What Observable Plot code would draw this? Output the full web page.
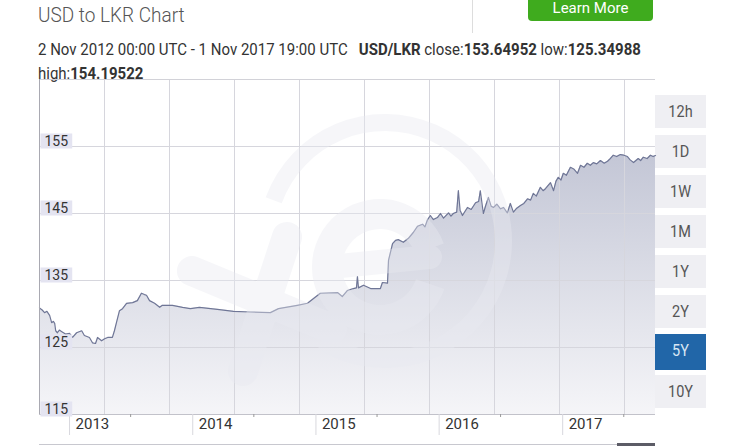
<!DOCTYPE html>
<html>
<head>
<meta charset="utf-8">
<script src="https://cdn.jsdelivr.net/npm/d3@7"></script>
<script src="https://cdn.jsdelivr.net/npm/@observablehq/plot@0.6"></script>
<style>
  html, body { margin: 0; padding: 0; background: #fff; }
  body { width: 732px; height: 446px; position: relative; overflow: hidden; font-family: Roboto, "Open Sans", sans-serif; }
  .title { position: absolute; left: 38px; top: 2px; font-size: 19px; font-weight: 300; color: #555; transform: scaleY(1.1); transform-origin: left top; }
  .sep { position: absolute; left: 472px; top: 0; width: 1px; height: 33px; background: #ddd; }
  .learn { position: absolute; left: 528px; top: -20px; width: 125px; height: 41px; background: #3fab1e; border-radius: 4px; color: #fff; font-size: 15px; text-align: center; line-height: 15px; padding-top: 21px; box-sizing: border-box; }
  .sub { position: absolute; left: 38px; top: 38px; width: 660px; font-size: 15px; line-height: 22px; color: #333; transform: scaleY(1.08); transform-origin: left top; }
  .sub b { font-weight: 700; }
  .btns { position: absolute; left: 655px; top: 95px; width: 51px; }
  .btn { height: 33px; margin-bottom: 7px; background: #efeff3; color: #555; font-size: 14.5px; text-align: center; line-height: 33px; }
  .btn span { display: inline-block; transform: scaleY(1.12); }
  .btn.on { background: #2166a8; color: #d8e6f4; height: 36px; line-height: 36px; margin-top: -1px; margin-bottom: 5px; }
  #chart { position: absolute; left: 0; top: 79px; }
</style>
</head>
<body>
<div class="title">USD to LKR Chart</div>
<div class="sep"></div>
<div class="learn">Learn More</div>
<div class="sub">2 Nov 2012 00:00 UTC - 1 Nov 2017 19:00 UTC &nbsp;&nbsp;<b>USD/LKR</b> close:<b>153.64952</b> low:<b>125.34988</b><br>high:<b>154.19522</b></div>
<div class="btns" id="btns"></div>
<div id="chart"></div>
<script>
// ---- data ----
const dates = [
"2012-10-04","2012-10-12","2012-10-19","2012-10-26","2012-11-03","2012-11-09","2012-11-14","2012-11-18","2012-11-21","2012-11-26",
"2012-12-02","2012-12-08","2012-12-20","2013-01-01","2013-01-10","2013-01-22","2013-02-06","2013-02-14","2013-03-01","2013-03-10",
"2013-03-19","2013-03-25","2013-04-06","2013-04-15","2013-04-24","2013-05-08","2013-05-14","2013-05-20","2013-05-29","2013-06-07",
"2013-06-19","2013-07-07","2013-07-21","2013-08-02","2013-08-11","2013-08-17","2013-08-26","2013-09-10","2013-09-25","2013-10-03",
"2013-11-02","2013-12-02","2013-12-25","2014-01-21","2014-03-15","2014-05-02","2014-06-21","2014-08-19","2014-09-12","2014-11-07",
"2014-12-07","2014-12-25","2015-01-14","2015-03-06","2015-03-20","2015-04-04","2015-04-22","2015-05-01","2015-05-04","2015-05-07",
"2015-05-22","2015-06-12","2015-07-11","2015-07-17","2015-08-01","2015-08-04","2015-08-16","2015-08-25","2015-09-02","2015-09-17",
"2015-10-02","2015-10-17","2015-10-29","2015-11-13","2015-11-20","2015-11-27","2015-12-06","2015-12-15","2015-12-27","2016-01-05",
"2016-01-14","2016-01-29","2016-02-05","2016-02-12","2016-02-22","2016-02-27","2016-03-03","2016-03-10","2016-03-25","2016-04-05",
"2016-04-18","2016-04-27","2016-05-02","2016-05-11","2016-05-18","2016-05-26","2016-06-03","2016-06-10","2016-06-20","2016-07-01",
"2016-07-10","2016-07-21","2016-07-30","2016-08-08","2016-08-18","2016-08-29","2016-09-08","2016-09-19","2016-09-28","2016-10-06",
"2016-10-15","2016-10-27","2016-11-04","2016-11-11","2016-11-26","2016-12-05","2016-12-12","2016-12-19","2016-12-27","2017-01-03",
"2017-01-12","2017-01-24","2017-02-04","2017-02-14","2017-02-23","2017-03-05","2017-03-15","2017-03-24","2017-04-02","2017-04-12",
"2017-04-23","2017-05-04","2017-05-14","2017-05-22","2017-05-31","2017-06-10","2017-06-21","2017-07-01","2017-07-12","2017-07-20",
"2017-07-30","2017-08-06","2017-08-13","2017-08-20","2017-08-28","2017-09-08","2017-09-18","2017-09-26","2017-10-03"
];
const values = [
130.9,130.6,130.2,130.4,129.8,128.7,128.9,128.6,127.5,127.2,
127.6,127.4,127.0,127.1,126.5,127.2,127.5,126.8,126.5,125.7,
125.6,126.5,126.0,126.3,126.5,126.5,127.5,128.7,130.5,130.8,
131.6,131.7,132.0,133.1,132.9,132.8,132.0,131.6,131.0,131.3,
131.3,131.0,130.8,131.0,130.7,130.4,130.3,130.2,130.8,131.3,
131.6,132.3,133.1,133.2,132.6,133.5,133.8,133.9,135.6,133.9,
134.3,133.8,133.8,134.7,134.6,138.0,140.5,141.0,141.1,140.7,
141.3,142.2,143.1,143.4,143.0,144.0,144.7,144.1,144.4,145.0,
144.3,145.1,144.6,145.0,145.2,148.4,145.5,144.7,145.9,145.6,
146.6,146.8,148.4,145.0,146.2,147.4,146.1,145.9,146.4,145.7,
145.9,145.1,146.5,145.2,145.8,146.2,146.5,147.2,147.0,148.0,
147.6,148.9,148.4,148.7,149.6,148.4,149.8,150.4,150.0,151.0,
150.7,151.9,151.6,151.0,152.2,151.9,152.5,152.2,152.6,152.4,
152.9,152.5,152.8,153.2,153.7,153.5,153.8,153.7,153.5,153.0,
152.6,152.9,153.2,152.9,153.4,153.2,153.7,153.5,153.65
];
const yTickValues = [115, 125, 135, 145, 155];
const yGridValues = [125, 135, 145, 155];
const periods = ["12h", "1D", "1W", "1M", "1Y", "2Y", "5Y", "10Y"];
const activePeriod = "5Y";

const xDomain = [new Date("2012-10-04"), new Date("2017-10-03")];
const yDomain = [115, 165];

const data = dates.map((d, i) => ({date: new Date(d), value: values[i]}));

// background grid columns every ~192.6 days (as in the reference)
const colStep = (xDomain[1] - xDomain[0]) * 65 / 616;
const xGrid = d3.range(1, 10).map(i => new Date(+xDomain[0] + i * colStep));
const years = d3.utcYear.range(new Date("2013-01-01"), xDomain[1]);
const halfYears = years.map(d => d3.utcMonth.offset(d, 6)).filter(d => d < xDomain[1]);

const chart = Plot.plot({
  width: 655,
  height: 367,
  marginLeft: 39,
  marginRight: 0,
  marginTop: 0,
  marginBottom: 32,
  style: {background: "transparent", fontFamily: "Roboto, sans-serif", overflow: "visible"},
  x: {type: "utc", domain: xDomain, axis: null},
  y: {domain: yDomain, axis: null},
  marks: [
    Plot.areaY(data, {x: "date", y1: () => yDomain[0], y2: "value", fill: "url(#lkrgrad)", curve: "linear"}),
    Plot.gridY(yGridValues, {stroke: "#d6d6dd", strokeOpacity: 1}),
    Plot.gridX(xGrid, {stroke: "#d6d6dd", strokeOpacity: 1}),
    Plot.lineY(data, {x: "date", y: "value", stroke: "#6f7696", strokeWidth: 1.2}),
    Plot.ruleY([yDomain[1]], {stroke: "#d2d2d8"}),
    Plot.ruleY([yDomain[0]], {stroke: "#c2c2ca"}),
    Plot.ruleX([xDomain[0]], {stroke: "#a9a9b2"}),
    Plot.axisX({ticks: years, tickSize: 21, tickFormat: () => "", stroke: "#d8d8de"}),
    Plot.axisX({ticks: halfYears, tickSize: 3, tickFormat: () => "", stroke: "#999"}),
    Plot.axisX({ticks: years, tickSize: 0, tickPadding: 4, tickFormat: "%Y", textAnchor: "start", dx: 6, fontSize: 15, fill: "#333"}),
    Plot.text(yTickValues, {y: d => d, text: d => String(d), frameAnchor: "left", dx: 5, dy: -1, lineAnchor: "bottom", textAnchor: "start", fontSize: 14, fill: "#333", className: "ylab"})
  ]
});
document.getElementById("chart").appendChild(chart);

const svg = d3.select(chart);
// gradient for the area
const defs = svg.insert("defs", ":first-child");
const grad = defs.append("linearGradient").attr("id", "lkrgrad")
  .attr("gradientUnits", "userSpaceOnUse").attr("x1", 0).attr("y1", 0).attr("x2", 0).attr("y2", 335);
grad.append("stop").attr("offset", 0).attr("stop-color", "#b5b9cc");
grad.append("stop").attr("offset", 1).attr("stop-color", "#f5f5f8");

// label backgrounds for y labels
svg.selectAll(".ylab text").each(function() {
  const b = this.getBBox();
  const t = this.getAttribute("transform");
  d3.select(this.parentNode).insert("rect", () => this)
    .attr("transform", t)
    .attr("x", b.x - 4).attr("y", b.y + 1).attr("width", b.width + 8).attr("height", b.height - 1)
    .attr("fill", "#e4e4f1");
});

// faint "xe" watermark
const wmColor = "#e9eaf1";
const wm = svg.append("g").attr("fill", "none").attr("stroke", wmColor).attr("opacity", 0.4).attr("stroke-linecap", "round");
wm.append("path").attr("transform", "translate(385,162)")
  .attr("d", d3.arc()({innerRadius: 110, outerRadius: 127, startAngle: -1.22, endAngle: 3.7})).attr("fill", wmColor).attr("stroke", "none");
wm.append("path").attr("transform", "translate(380,188)")
  .attr("d", d3.arc()({innerRadius: 38, outerRadius: 68, startAngle: 1.9, endAngle: 1.9 + 5.6})).attr("fill", wmColor).attr("stroke", "none");
wm.append("line").attr("x1", 330).attr("y1", 188).attr("x2", 430).attr("y2", 178).attr("stroke-width", 24);
wm.append("line").attr("x1", 192).attr("y1", 192).attr("x2", 332).attr("y2", 250).attr("stroke-width", 30);
wm.append("line").attr("x1", 287).attr("y1", 158).attr("x2", 243).attr("y2", 292).attr("stroke-width", 30);

// navigator strip hint at bottom
svg.append("line").attr("x1", 39).attr("x2", 655).attr("y1", 365.5).attr("y2", 365.5).attr("stroke", "#c8c8cf");
svg.append("rect").attr("x", 617).attr("y", 364).attr("width", 38).attr("height", 3).attr("fill", "#5c5c66");

// period buttons
const btns = d3.select("#btns");
periods.forEach(p => {
  btns.append("div").attr("class", "btn" + (p === activePeriod ? " on" : "")).append("span").text(p);
});
</script>
</body>
</html>
